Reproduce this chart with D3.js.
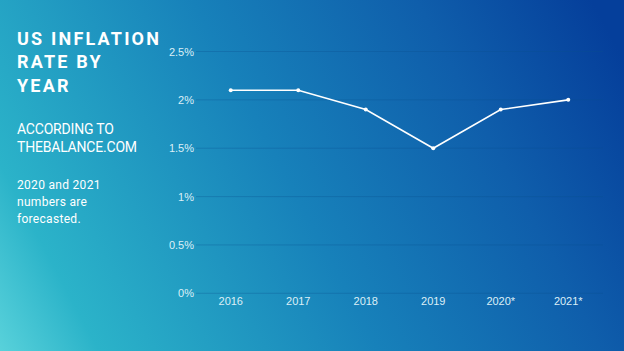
<!DOCTYPE html>
<html>
<head>
<meta charset="utf-8">
<script src="https://cdn.jsdelivr.net/npm/d3@7"></script>
<style>
  html, body { margin: 0; padding: 0; overflow: hidden; }
  svg { display: block; }
</style>
</head>
<body>
<div id="chart"></div>
<script>
// chart data
const years = ["2016", "2017", "2018", "2019", "2020*", "2021*"];
const rates = [2.1, 2.1, 1.9, 1.5, 1.9, 2.0];
const yTicks = [0, 0.5, 1, 1.5, 2, 2.5];
const titleLines = ["US INFLATION", "RATE BY", "YEAR"];
const sourceLines = ["ACCORDING TO", "THEBALANCE.COM"];
const noteLines = ["2020 and 2021", "numbers are", "forecasted."];

const W = 624, H = 351;

const svg = d3.select("#chart")
    .append("svg")
    .attr("width", W)
    .attr("height", H);

// background gradient
const defs = svg.append("defs");
const bg = defs.append("linearGradient")
    .attr("id", "bg")
    .attr("gradientUnits", "userSpaceOnUse")
    .attr("x1", 0).attr("y1", H + 40)
    .attr("x2", W).attr("y2", 60);
bg.selectAll("stop")
    .data([
        {offset: "0%", color: "#62d8de"},
        {offset: "15%", color: "#2bb3c9"},
        {offset: "50%", color: "#1781ba"},
        {offset: "78%", color: "#0f5eab"},
        {offset: "100%", color: "#053f9b"}
    ])
    .join("stop")
    .attr("offset", d => d.offset)
    .attr("stop-color", d => d.color);

svg.append("rect")
    .attr("width", W)
    .attr("height", H)
    .attr("fill", "url(#bg)");

// scales
const x = d3.scaleBand()
    .domain(years)
    .range([197, 602]);

const y = d3.scaleLinear()
    .domain([0, 2.5])
    .range([293.3, 51.5]);

// gridlines
svg.append("g")
    .selectAll("line")
    .data(yTicks)
    .join("line")
    .attr("x1", 196)
    .attr("x2", 603)
    .attr("y1", d => y(d))
    .attr("y2", d => y(d))
    .attr("stroke", "#0b4f8e")
    .attr("stroke-opacity", 0.3)
    .attr("stroke-width", 1);

// y axis labels
const yAxis = svg.append("g")
    .attr("transform", "translate(196,0)")
    .call(d3.axisLeft(y).tickValues(yTicks).tickSize(0).tickPadding(2).tickFormat(d => d + "%"));
yAxis.select(".domain").remove();
yAxis.selectAll("text")
    .attr("fill", "#dcefF7")
    .style("font-family", "'Liberation Sans', Arial, sans-serif")
    .style("font-size", "11px");

// x axis labels
const xAxis = svg.append("g")
    .attr("transform", "translate(0,293)")
    .call(d3.axisBottom(x).tickSize(0).tickPadding(4));
xAxis.select(".domain").remove();
xAxis.selectAll("text")
    .attr("fill", "#dcefF7")
    .style("font-family", "'Liberation Sans', Arial, sans-serif")
    .style("font-size", "11px");

// line
const line = d3.line()
    .x((d, i) => x(years[i]) + x.bandwidth() / 2)
    .y(d => y(d));

svg.append("path")
    .datum(rates)
    .attr("d", line)
    .attr("fill", "none")
    .attr("stroke", "#ffffff")
    .attr("stroke-width", 1.6);

svg.append("g")
    .selectAll("circle")
    .data(rates)
    .join("circle")
    .attr("cx", (d, i) => x(years[i]) + x.bandwidth() / 2)
    .attr("cy", d => y(d))
    .attr("r", 2)
    .attr("fill", "#ffffff");

// left text block
const textG = svg.append("g").style("font-family", "Roboto, sans-serif").attr("fill", "#ffffff");

textG.selectAll(".title")
    .data(titleLines)
    .join("text")
    .attr("class", "title")
    .attr("x", 17)
    .attr("y", (d, i) => 44.5 + i * 23.5)
    .style("font-size", "18px")
    .style("font-weight", "bold")
    .style("letter-spacing", "2.2px")
    .text(d => d);

textG.selectAll(".source")
    .data(sourceLines)
    .join("text")
    .attr("class", "source")
    .attr("x", 17)
    .attr("y", (d, i) => 133.5 + i * 18.5)
    .style("font-size", "14px")
    .style("letter-spacing", "-0.2px")
    .text(d => d);

textG.selectAll(".note")
    .data(noteLines)
    .join("text")
    .attr("class", "note")
    .attr("x", 17)
    .attr("y", (d, i) => 188.5 + i * 17)
    .style("font-size", "12px")
    .style("letter-spacing", "0.3px")
    .text(d => d);
</script>
</body>
</html>
